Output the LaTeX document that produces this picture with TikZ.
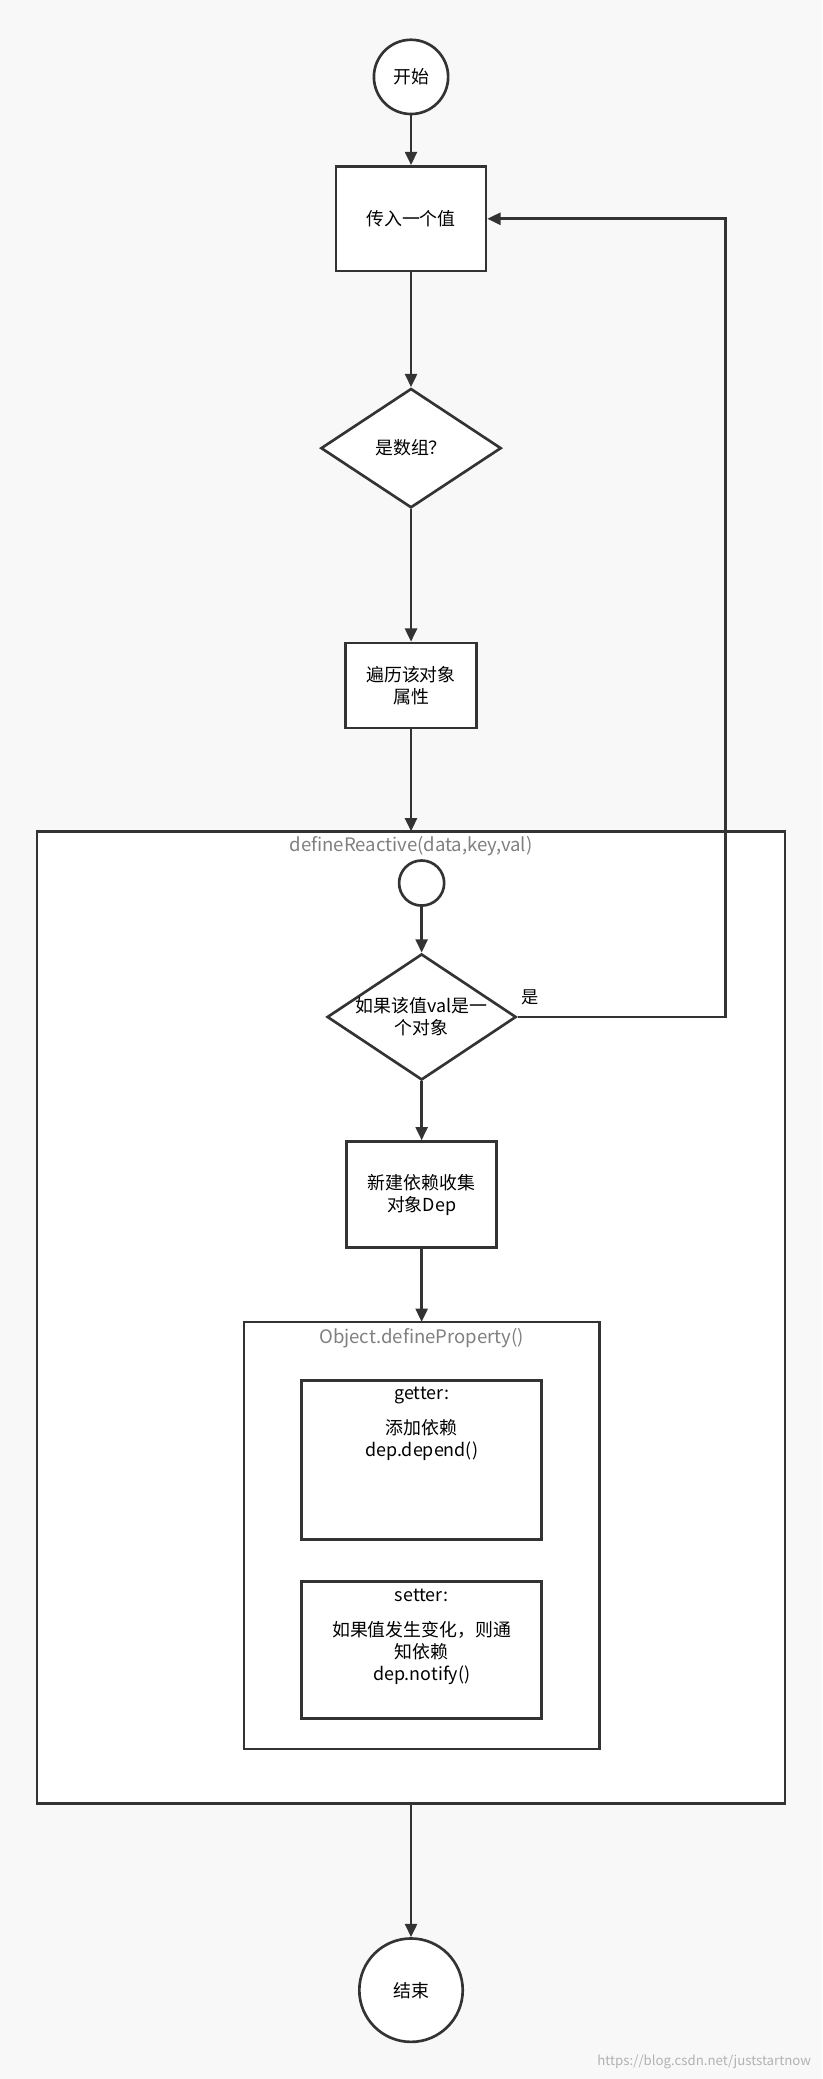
\documentclass[tikz,border=0pt]{standalone}
\usepackage{fontspec}
\setmainfont{Noto Sans CJK SC}
\usetikzlibrary{shapes.geometric}
\usetikzlibrary{arrows.meta}
\definecolor{bgcol}{HTML}{F8F8F8}
\definecolor{linecol}{HTML}{333333}
\begin{document}
\begin{tikzpicture}[x=1pt, y=-1pt,
    line width=2pt, draw=linecol,
    box/.style={draw=linecol, line width=2pt, fill=white, align=center, font=\fontsize{13.5}{16.5}\selectfont},
    flow/.style={-{Triangle[length=10pt,width=9pt]}, line width=2pt, draw=linecol},
    title/.style={text=gray, font=\fontsize{14}{16}\selectfont}]

% Background
\fill[bgcol] (0,0) rectangle (620,1568);
\useasboundingbox (0,0) rectangle (620,1568);

% Containers
\draw[fill=white] (28,627) rectangle (592,1360);
\node[title] (reactive) at (310,638) {defineReactive(data,key,val)};
\coordinate (outertop) at (310,627);
\coordinate (outerbot) at (310,1360);
\draw[fill=white] (184,997) rectangle (452,1319);
\node[title] (defprop) at (318,1009) {Object.defineProperty()};
\coordinate (innertop) at (318,997);

% Nodes
\node[box, circle, minimum size=56pt, inner sep=0pt] (start) at (310,58) {开始};
\node[box, minimum width=113pt, minimum height=79pt] (input) at (310,165) {传入一个值};
\node[box, diamond, aspect=1.5, minimum width=136pt, minimum height=90pt, inner sep=0pt] (isarr) at (310,338) {是数组？};
\node[box, minimum width=99pt, minimum height=64pt] (walk) at (310,517) {遍历该对象\\属性};
\node[box, circle, minimum size=34pt, inner sep=0pt] (sub) at (318,666) {};
\node[box, diamond, aspect=1.5, minimum width=136pt, minimum height=90pt, inner sep=0pt] (isobj) at (318,767) {如果该值val是一\\个对象};
\node[box, minimum width=113pt, minimum height=80pt] (dep) at (318,901) {新建依赖收集\\对象Dep};
\node[box, minimum width=181pt, minimum height=120pt, anchor=north] (getter) at (318,1040) {};
\node[box, draw=none, fill=none, anchor=north] (gettxt) at (318,1042) {getter:\\[10pt]添加依赖\\dep.depend()};
\node[box, minimum width=181pt, minimum height=103pt, anchor=north] (setter) at (318,1192) {};
\node[box, draw=none, fill=none, anchor=north] (settxt) at (318,1194) {setter:\\[10pt]如果值发生变化，则通\\知依赖\\dep.notify()};
\node[box, circle, minimum size=78pt, inner sep=0pt] (stop) at (310,1501) {结束};

% Connectors
\draw[flow] (start) -- (input);
\draw[flow] (input) -- (isarr);
\draw[flow] (isarr) -- (walk);
\draw[flow] (walk) -- (outertop);
\draw[flow] (sub) -- (isobj);
\draw[flow] (isobj) -- (dep);
\draw[flow] (dep) -- (innertop);
\draw[flow] (outerbot) -- (stop);
\draw[flow] (isobj.east) -- (547,767) -- (547,165) -- (input.east);
\node[font=\fontsize{13}{15}\selectfont] (yes) at (400,752) {是};

% Watermark
\node[anchor=south east, text=gray!60, font=\fontsize{10}{12}\selectfont] (mark) at (616,1565) {https://blog.csdn.net/juststartnow};
\end{tikzpicture}
\end{document}
